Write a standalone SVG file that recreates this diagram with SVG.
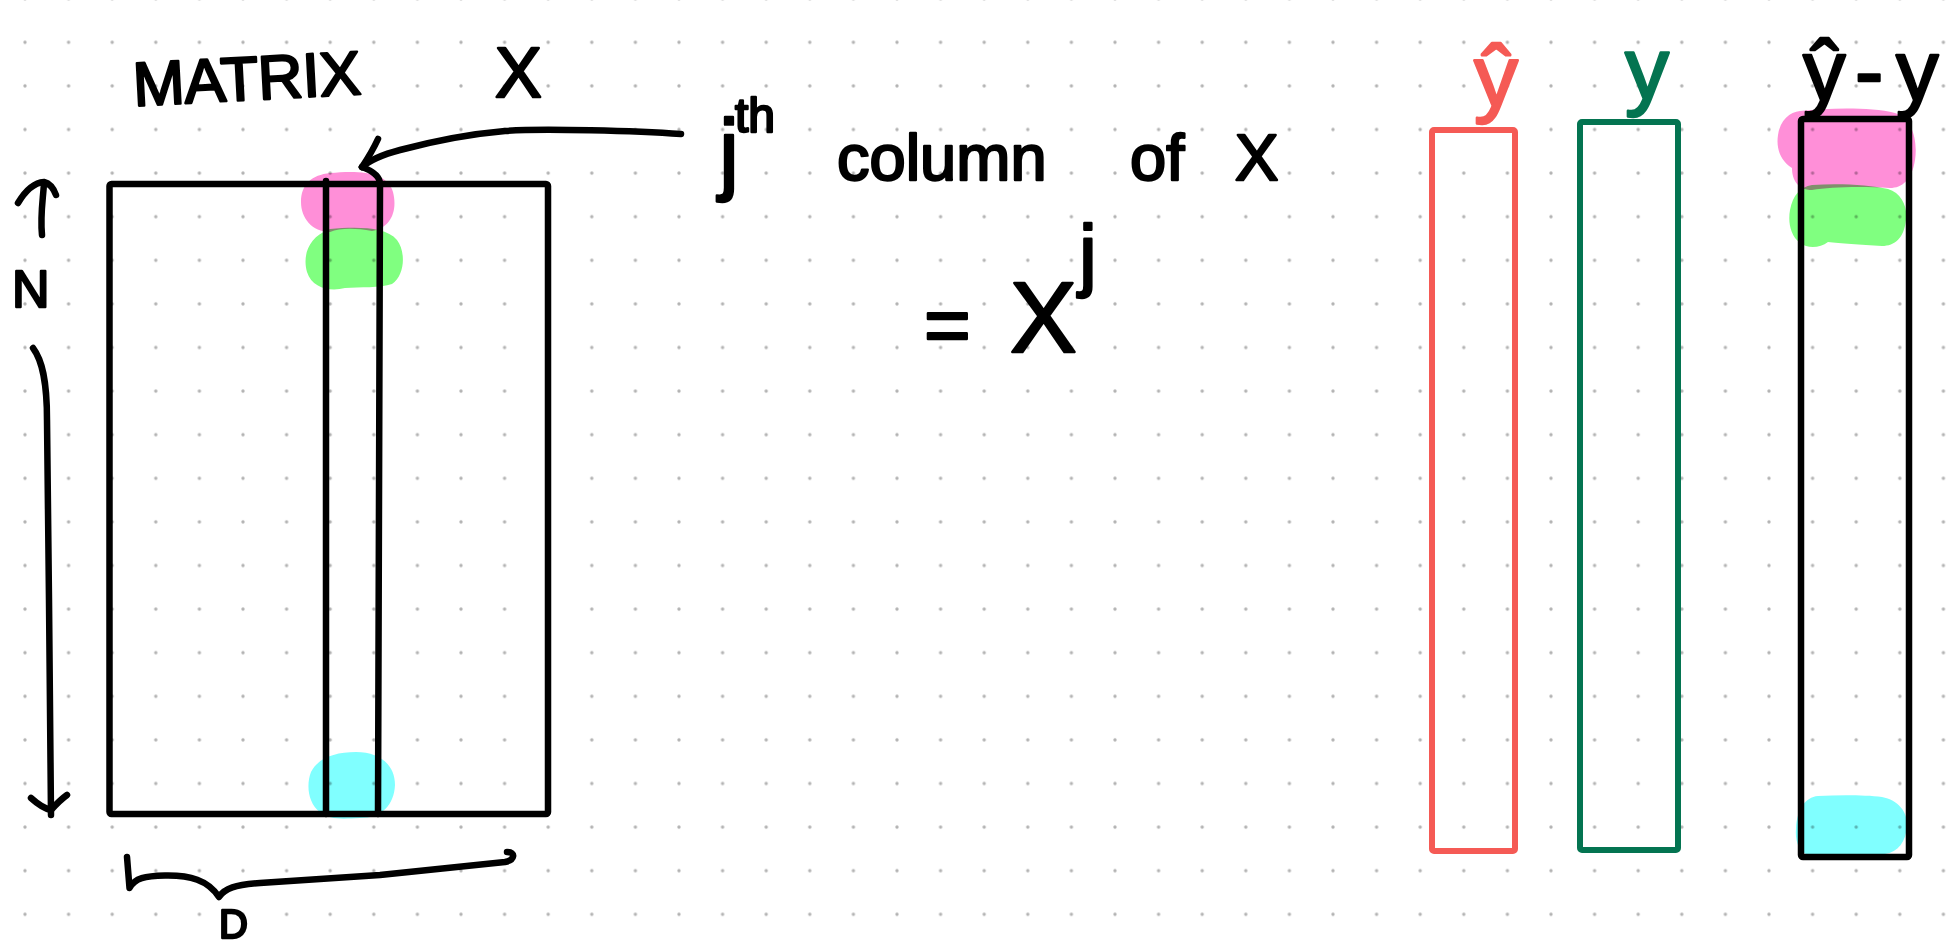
<svg xmlns="http://www.w3.org/2000/svg" width="1950" height="949" viewBox="0 0 1950 949">
<defs>
<pattern id="dots" x="3.2" y="20.5" width="43.6" height="43.6" patternUnits="userSpaceOnUse"><circle cx="21.8" cy="21.8" r="1.7" fill="#b3b3b3"/></pattern>
<style>
.ink{fill:none;stroke:#000;stroke-width:6.5;stroke-linecap:round;stroke-linejoin:round}
.hand{font-family:"Liberation Sans",Arial,sans-serif;fill:#000;stroke:#000;stroke-width:2.4;stroke-linejoin:round}
.hl{mix-blend-mode:multiply;stroke:none}
.pink{fill:#ff8fd8}.green{fill:#80ff80}.cyan{fill:#80ffff}
</style>
</defs>
<rect width="1950" height="949" fill="#fff"/>
<rect width="1950" height="949" fill="url(#dots)"/>

<g id="matrix">
<rect x="109.5" y="184" width="438.5" height="630" rx="2" class="ink"/>
<path d="M326,181 L326,814" class="ink"/>
<path d="M362,167 C370,170 380,175 380,184 L378,814" class="ink"/>
</g>

<g id="matrix-label">
<text class="hand" x="134" y="106" font-size="62" textLength="228" lengthAdjust="spacing" transform="rotate(-3 134 106)">MATRIX</text>
<text class="hand" x="495" y="97" font-size="70">X</text>
</g>

<g id="n-label">
<text class="hand" x="12" y="307" font-size="52">N</text>
</g>

<g id="d-brace">
<path d="M127,857 L129.5,888 C135,878 145,876 165,875.5 C190,875 208,880 219,897 C225,888 235,885 260,883 C300,880 340,878 380,875 C430,870 470,866 505,862 C515,860 516,852 507,852" class="ink"/>
<text class="hand" x="219" y="938" font-size="40">D</text>
</g>

<g id="jth-label">
<text class="hand" x="719" y="183" font-size="90">j</text>
<text class="hand" x="735" y="132" font-size="48">th</text>
<text class="hand" x="837" y="180" font-size="65">column</text>
<text class="hand" x="1130" y="180" font-size="65">of</text>
<text class="hand" x="1235" y="180" font-size="65">X</text>
</g>

<g id="xj-label">
<text class="hand" x="924" y="352" font-size="80">=</text>
<text class="hand" x="1010" y="352" font-size="100">X</text>
<text class="hand" x="1079" y="281" font-size="80">j</text>
</g>

<g id="yhat">
<rect x="1432" y="130" width="83" height="721" rx="2" fill="none" stroke="#f55a55" stroke-width="6"/>
<text class="hand" x="1474" y="106" font-size="88" style="fill:#f55a55;stroke:#f55a55">ŷ</text>
</g>

<g id="y">
<rect x="1580" y="122" width="98" height="728" rx="2" fill="none" stroke="#047451" stroke-width="6"/>
<text class="hand" x="1625" y="99" font-size="88" style="fill:#047451;stroke:#047451">y</text>
</g>

<g id="residual">
<rect x="1801" y="119" width="108" height="738" rx="2" class="ink" stroke-width="7"/>
<text class="hand" x="1803" y="100" font-size="85">ŷ</text>
<text class="hand" x="1855" y="100" font-size="85">-</text>
<text class="hand" x="1896" y="100" font-size="85">y</text>
</g>

<g id="connectors">
<path d="M681,134 C640,131 540,128 505,131 C470,134 430,142 400,150 C385,154 370,160 362,167" class="ink"/>
<path d="M378,139 Q372,152 362,167" class="ink"/>
<path d="M42,235 C40,215 43,200 44,183" class="ink"/>
<path d="M18,203 Q30,183 44,182 Q52,184 56,195" class="ink"/>
<path d="M33,348 C42,360 47,380 47,420 L49,600 L51,815" class="ink"/>
<path d="M31,798 Q42,808 51,810 Q60,800 67,795" class="ink"/>
</g>

<g id="highlights">
<path class="hl pink" d="M330,173 C360,170 388,172 393,192 C398,212 390,228 372,231 C355,228 340,228 330,232 C312,232 301,218 301,202 C301,184 312,175 330,173 Z"/>
<path class="hl green" d="M330,229 C355,227 385,226 397,240 C406,252 405,275 392,284 C380,288 360,287 345,288 C330,292 312,288 307,272 C303,258 306,238 330,229 Z"/>
<path class="hl cyan" d="M356,752 C380,752 395,765 395,785 C394,805 382,818 360,818 C342,819 330,820 320,812 C308,803 306,785 311,772 C318,758 335,752 356,752 Z"/>
<path class="hl pink" d="M1800,111 C1830,108 1870,107 1895,113 C1912,118 1918,140 1915,160 C1912,180 1902,188 1890,188 C1860,186 1830,187 1812,190 C1798,190 1792,180 1792,168 C1780,160 1776,148 1778,135 C1780,120 1790,112 1800,111 Z"/>
<path class="hl green" d="M1812,185 C1840,183 1870,185 1888,189 C1902,193 1908,208 1906,220 C1904,238 1895,246 1882,246 C1860,245 1840,243 1828,242 C1820,248 1808,249 1800,243 C1790,235 1788,222 1790,210 C1793,195 1800,187 1812,185 Z"/>
<path class="hl cyan" d="M1818,796 C1840,795 1865,795 1882,797 C1898,800 1908,812 1907,826 C1906,842 1898,852 1885,854 C1860,855 1830,854 1806,854 C1798,850 1795,840 1796,828 C1797,810 1805,797 1818,796 Z"/>
</g>
</svg>
